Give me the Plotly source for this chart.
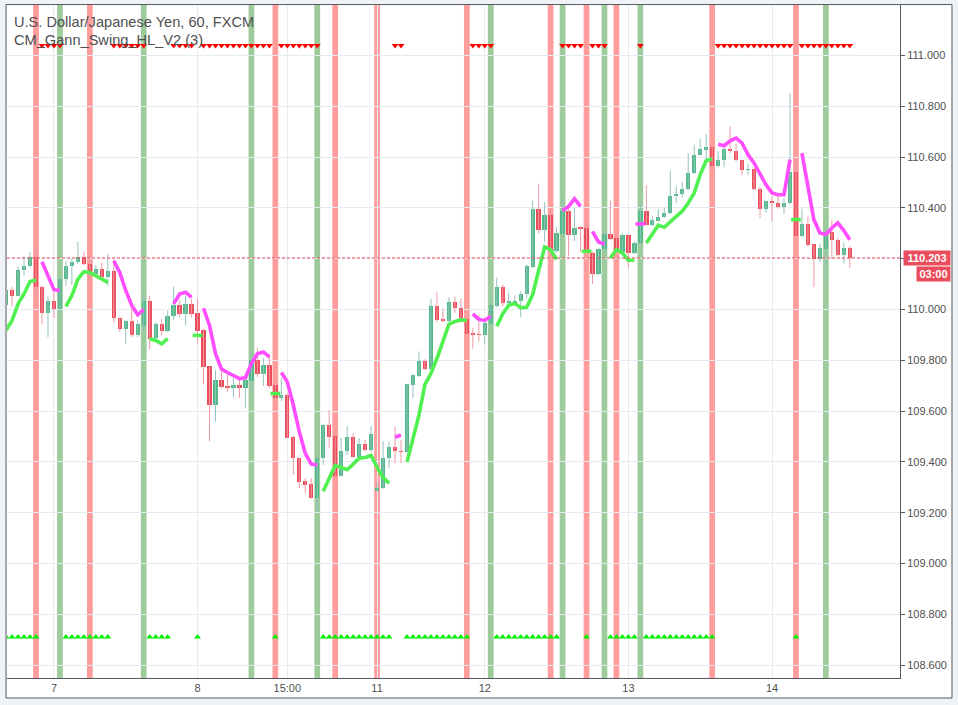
import plotly.graph_objects as go

# ---------------- data ----------------
tick_idx = [8, 32, 47, 62, 80, 104, 128]
tick_text = ["7", "8", "15:00", "11", "12", "13", "14"]

opens = [110.016, 110.075, 110.055, 110.154, 110.170, 110.208, 110.090, 109.986, 110.035, 110.003,
         110.120, 110.170, 110.186, 110.207, 110.179, 110.139, 110.159, 110.129, 110.153, 109.967,
         109.922, 109.953, 109.898, 109.937, 110.035, 109.888, 109.941, 109.914, 109.974, 110.016,
         109.984, 110.020, 109.987, 109.918, 109.776, 109.624, 109.722, 109.698, 109.691, 109.702,
         109.691, 109.719, 109.800, 109.748, 109.780, 109.702, 109.652, 109.663, 109.499, 109.414,
         109.323, 109.312, 109.257, 109.414, 109.545, 109.502, 109.346, 109.441, 109.499, 109.421,
         109.471, 109.447, 109.284, 109.297, 109.414, 109.460, 109.443, 109.440, 109.702, 109.739,
         109.796, 109.765, 110.012, 109.961, 109.953, 110.031, 110.005, 109.963, 109.907, 109.905,
         109.899, 109.941, 110.013, 110.088, 110.024, 110.026, 110.033, 110.062, 110.166, 110.397,
         110.315, 110.374, 110.229, 110.299, 110.389, 110.295, 110.324, 110.321, 110.223, 110.138,
         110.240, 110.298, 110.282, 110.225, 110.295, 110.223, 110.260, 110.389, 110.334, 110.350,
         110.366, 110.379, 110.446, 110.456, 110.474, 110.537, 110.609, 110.630, 110.641, 110.564,
         110.590, 110.633, 110.623, 110.587, 110.548, 110.553, 110.476, 110.397, 110.426, 110.421,
         110.402, 110.418, 110.540, 110.288, 110.338, 110.256, 110.199, 110.240, 110.304, 110.275,
         110.214, 110.244]
highs = [110.085, 110.090, 110.170, 110.209, 110.227, 110.231, 110.095, 110.051, 110.071, 110.133,
         110.192, 110.199, 110.267, 110.225, 110.199, 110.175, 110.186, 110.218, 110.199, 109.970,
         109.957, 110.022, 109.957, 110.071, 110.055, 109.950, 109.963, 109.996, 110.090, 110.035,
         110.055, 110.042, 110.044, 109.924, 109.776, 109.761, 109.754, 109.748, 109.728, 109.722,
         109.741, 109.833, 109.848, 109.809, 109.820, 109.718, 109.728, 109.669, 109.503, 109.414,
         109.336, 109.336, 109.427, 109.548, 109.604, 109.506, 109.495, 109.541, 109.512, 109.493,
         109.486, 109.541, 109.320, 109.482, 109.480, 109.539, 109.486, 109.708, 109.745, 109.835,
         109.804, 110.042, 110.068, 110.003, 110.048, 110.051, 110.044, 109.966, 109.928, 109.980,
         109.961, 110.059, 110.125, 110.098, 110.066, 110.056, 110.072, 110.177, 110.429, 110.495,
         110.423, 110.394, 110.325, 110.436, 110.400, 110.400, 110.328, 110.328, 110.229, 110.243,
         110.308, 110.429, 110.288, 110.301, 110.297, 110.269, 110.439, 110.488, 110.367, 110.397,
         110.400, 110.547, 110.485, 110.502, 110.616, 110.649, 110.672, 110.691, 110.649, 110.623,
         110.649, 110.721, 110.653, 110.591, 110.575, 110.557, 110.482, 110.429, 110.446, 110.459,
         110.440, 110.852, 110.594, 110.397, 110.367, 110.259, 110.259, 110.321, 110.354, 110.282,
         110.263, 110.249]
lows = [110.005, 110.012, 110.052, 110.133, 110.166, 110.061, 109.941, 109.891, 109.966, 109.987,
        110.092, 110.097, 110.179, 110.173, 110.099, 110.133, 110.120, 110.094, 109.950, 109.911,
        109.865, 109.891, 109.891, 109.911, 109.843, 109.873, 109.898, 109.911, 109.957, 109.970,
        109.937, 109.970, 109.865, 109.705, 109.480, 109.558, 109.689, 109.676, 109.656, 109.652,
        109.610, 109.676, 109.735, 109.699, 109.689, 109.643, 109.639, 109.493, 109.349, 109.297,
        109.277, 109.255, 109.205, 109.388, 109.456, 109.342, 109.342, 109.427, 109.417, 109.417,
        109.440, 109.440, 109.284, 109.294, 109.375, 109.395, 109.395, 109.437, 109.652, 109.735,
        109.761, 109.765, 109.950, 109.950, 109.950, 109.987, 109.957, 109.901, 109.846, 109.875,
        109.862, 109.938, 110.009, 110.013, 110.020, 110.020, 109.970, 110.046, 110.163, 110.301,
        110.266, 110.135, 110.223, 110.295, 110.210, 110.269, 110.229, 110.223, 110.101, 110.135,
        110.236, 110.272, 110.223, 110.223, 110.164, 110.217, 110.256, 110.332, 110.328, 110.347,
        110.361, 110.376, 110.419, 110.440, 110.470, 110.535, 110.606, 110.583, 110.547, 110.560,
        110.560, 110.615, 110.583, 110.528, 110.528, 110.468, 110.358, 110.380, 110.345, 110.397,
        110.377, 110.415, 110.284, 110.284, 110.249, 110.088, 110.187, 110.105, 110.200, 110.210,
        110.181, 110.164]
closes = [110.075, 110.055, 110.157, 110.173, 110.208, 110.088, 109.986, 110.035, 110.001, 110.120,
          110.173, 110.188, 110.207, 110.179, 110.139, 110.159, 110.129, 110.153, 109.966, 109.922,
          109.953, 109.898, 109.941, 110.035, 109.885, 109.941, 109.914, 109.976, 110.016, 109.984,
          110.020, 109.984, 109.914, 109.774, 109.624, 109.722, 109.695, 109.691, 109.702, 109.691,
          109.722, 109.800, 109.748, 109.780, 109.699, 109.652, 109.663, 109.495, 109.414, 109.320,
          109.310, 109.257, 109.414, 109.545, 109.499, 109.346, 109.443, 109.499, 109.421, 109.471,
          109.447, 109.510, 109.297, 109.414, 109.460, 109.443, 109.440, 109.705, 109.741, 109.796,
          109.765, 110.012, 109.957, 109.953, 110.031, 110.005, 109.961, 109.905, 109.901, 109.899,
          109.945, 110.016, 110.088, 110.024, 110.033, 110.035, 110.063, 110.170, 110.397, 110.315,
          110.374, 110.229, 110.301, 110.389, 110.295, 110.321, 110.318, 110.229, 110.138, 110.240,
          110.298, 110.279, 110.225, 110.295, 110.223, 110.262, 110.389, 110.334, 110.354, 110.366,
          110.381, 110.448, 110.456, 110.474, 110.537, 110.609, 110.633, 110.641, 110.564, 110.590,
          110.633, 110.623, 110.587, 110.548, 110.553, 110.476, 110.397, 110.426, 110.418, 110.402,
          110.421, 110.540, 110.288, 110.338, 110.253, 110.199, 110.244, 110.304, 110.273, 110.214,
          110.244, 110.203]

N = None
# swing line following highs (shown in down swings)
hi_line = [N, N, N, N, N, N, 110.188, 110.133, 110.078, 110.075,
           N, N, N, N, N, N, N, N, 110.192, 110.146,
           110.075, 110.016, 109.979, 110.000, N, N, N, N, 110.022, 110.061,
           110.068, 110.048, N, 110.005, 109.937, 109.826, 109.765, 109.752, 109.739, 109.728,
           109.731, 109.787, 109.826, 109.833, 109.813, N, 109.752, 109.715, 109.624, 109.519,
           109.434, 109.391, 109.388, N, N, N, N, N, N, N,
           N, N, N, N, N, 109.497, 109.506, N, N, N,
           N, N, N, N, N, N, N, N, 109.983, 109.961,
           109.957, 109.974, N, N, N, N, N, N, N, N,
           N, N, N, 110.389, 110.406, 110.436, 110.406, N, 110.308, 110.266,
           110.258, N, N, N, N, N, 110.337, N, N, N,
           N, N, N, N, N, N, N, N, N, 110.651,
           110.645, 110.664, 110.675, 110.655, 110.609, 110.577, 110.537, 110.491, 110.459, 110.452,
           110.452, 110.590, N, 110.616, 110.491, 110.354, 110.301, 110.295, 110.321, 110.341,
           110.311, 110.275]
# swing line following lows (shown in up swings)
lo_line = [109.918, 109.957, 110.022, 110.061, 110.110, 110.116, N, N, N, N,
           110.012, 110.055, 110.120, 110.149, 110.146, 110.133, 110.116, 110.107, N, N,
           N, N, N, N, 109.885, 109.878, 109.865, 109.885, N, N,
           N, N, 109.898, N, N, N, N, N, N, N,
           N, N, N, N, N, 109.669, N, N, N, N,
           N, N, N, 109.284, 109.336, 109.386, 109.378, 109.369, 109.391, 109.414,
           109.417, 109.425, 109.378, 109.339, 109.316, N, N, 109.399, 109.493, 109.584,
           109.705, 109.748, 109.807, 109.872, 109.941, 109.953, 109.959, 109.957, N, N,
           N, N, 109.934, 109.983, 110.017, 110.024, 110.007, 110.009, 110.059, 110.157,
           110.246, 110.236, 110.197, N, N, N, N, 110.229, N, N,
           N, 110.203, 110.236, 110.223, 110.194, 110.194, N, 110.262, 110.298, 110.332,
           110.324, 110.347, 110.367, 110.387, 110.419, 110.459, 110.531, 110.586, 110.594, N,
           N, N, N, N, N, N, N, N, N, N,
           N, N, 110.354, N, N, N, N, N, N, N,
           N, N]

red_bands = [5, 14, 45, 55, 62, 77, 91, 97, 102, 118, 132]
green_bands = [9, 23, 41, 52, 81, 93, 100, 106, 137]

up_marks = [0, 1, 2, 3, 4, 5, 10, 11, 12, 13, 14, 15, 16, 17, 24, 25, 26, 27, 32, 45,
            53, 54, 55, 56, 57, 58, 59, 60, 61, 62, 63, 64, 67, 68, 69, 70, 71, 72, 73, 74,
            75, 76, 77, 82, 83, 84, 85, 86, 87, 88, 89, 90, 91, 92, 97, 101, 102, 103, 104,
            105, 107, 108, 109, 110, 111, 112, 113, 114, 115, 116, 117, 118, 132]
down_marks = [6, 7, 8, 9, 18, 19, 20, 21, 22, 23, 28, 29, 30, 31, 33, 34, 35, 36, 37, 38,
              39, 40, 41, 42, 43, 44, 46, 47, 48, 49, 50, 51, 52, 65, 66, 78, 79, 80, 81,
              93, 94, 95, 96, 98, 99, 100, 106, 119, 120, 121, 122, 123, 124, 125, 126, 127,
              128, 129, 130, 131, 133, 134, 135, 136, 137, 138, 139, 140, 141]

title_1 = "U.S. Dollar/Japanese Yen, 60, FXCM"
title_2 = "CM_Gann_Swing_HL_V2 (3)"
last_price = closes[-1]
countdown = "03:00"

# ---------------- styling ----------------
UP = "#53b987"
DN = "#eb4d5c"
UP_WICK = "#93c2c0"
DN_WICK = "#f09aa2"
TXT = "#4f4f4f"
GRID = "#e5ebf1"
AX = "#555a60"
FONT = "Liberation Sans"

idx = list(range(len(opens)))
fig = go.Figure()

# wicks
for want_up, col in ((True, UP_WICK), (False, DN_WICK)):
    wx, wy = [], []
    for i in idx:
        if (closes[i] >= opens[i]) == want_up:
            wx += [i, i, None]
            wy += [lows[i], highs[i], None]
    fig.add_trace(go.Scatter(x=wx, y=wy, mode="lines", line=dict(color=col, width=1),
                             hoverinfo="skip"))

# bodies
for want_up, col in ((True, UP), (False, DN)):
    bx, bb, bh = [], [], []
    for i in idx:
        if (closes[i] >= opens[i]) == want_up:
            bx.append(i)
            bb.append(min(opens[i], closes[i]))
            bh.append(max(abs(closes[i] - opens[i]), 0.004))
    fig.add_trace(go.Bar(x=bx, y=bh, base=bb, width=0.72, marker=dict(color=col, line=dict(width=0)),
                         hoverinfo="skip"))

# swing lines
MAG = "#ff4dff"
LIM = "#4ff04f"
for vals, col in ((hi_line, MAG), (lo_line, LIM)):
    fig.add_trace(go.Scatter(x=idx, y=vals, mode="lines", line=dict(color=col, width=3.6),
                             connectgaps=False, hoverinfo="skip"))
    # isolated points shown as short dashes
    sx, sy = [], []
    for i in idx:
        if vals[i] is None:
            continue
        prev_none = i == 0 or vals[i - 1] is None
        next_none = i == len(vals) - 1 or vals[i + 1] is None
        if prev_none and next_none:
            sx.append(i)
            sy.append(vals[i])
    fig.add_trace(go.Scatter(x=sx, y=sy, mode="markers",
                             marker=dict(symbol="line-ew", size=7, line=dict(color=col, width=3.6)),
                             hoverinfo="skip"))

# swing markers
fig.add_trace(go.Scatter(x=down_marks, y=[111.04] * len(down_marks), mode="markers",
                         marker=dict(symbol="triangle-down", size=6, color="#ff0000"),
                         hoverinfo="skip"))
fig.add_trace(go.Scatter(x=up_marks, y=[108.71] * len(up_marks), mode="markers",
                         marker=dict(symbol="triangle-up", size=6, color="#00ee00"),
                         hoverinfo="skip"))

shapes = []
# outer panel
shapes.append(dict(type="rect", xref="paper", yref="paper", x0=-0.0011, x1=1.0582,
                   y0=-0.0297, y1=1.0007, line=dict(color=AX, width=1), fillcolor="white",
                   layer="below"))
for b in red_bands:
    shapes.append(dict(type="rect", xref="x", yref="paper", x0=b - 0.48, x1=b + 0.48, y0=0, y1=1,
                       fillcolor="#ff9c9c", line=dict(width=0), layer="between"))
for b in green_bands:
    shapes.append(dict(type="rect", xref="x", yref="paper", x0=b - 0.48, x1=b + 0.48, y0=0, y1=1,
                       fillcolor="#9dcb9b", line=dict(width=0), layer="between"))
# last price line
shapes.append(dict(type="line", xref="paper", yref="y", x0=0, x1=1, y0=last_price, y1=last_price,
                   line=dict(color=DN, width=1, dash="3px,2px"), layer="above"))

annotations = [
    dict(text=title_1, xref="paper", yref="paper", x=0.006, y=(678 - 22) / 673,
         xanchor="left", yanchor="middle", showarrow=False,
         font=dict(family=FONT, size=14.6, color=TXT)),
    dict(text=title_2, xref="paper", yref="paper", x=0.006, y=(678 - 40) / 673,
         xanchor="left", yanchor="middle", showarrow=False,
         font=dict(family=FONT, size=14.6, color=TXT)),
    dict(text="<b>%.3f</b>" % last_price, xref="paper", yref="y", x=(903 - 7) / 893, y=last_price,
         xanchor="left", yanchor="middle", showarrow=False, bgcolor=DN, width=44, height=12,
         borderpad=1, font=dict(family=FONT, size=11, color="white")),
    dict(text="<b>%s</b>" % countdown, xref="paper", yref="y", x=(951 - 7) / 893, y=last_price,
         yshift=-16, xanchor="right", yanchor="middle", showarrow=False, bgcolor=DN, width=31,
         height=12, borderpad=1, font=dict(family=FONT, size=11, color="white")),
]

fig.update_layout(
    width=958, height=705,
    margin=dict(l=7, r=58, t=5, b=27),
    paper_bgcolor="#eff2f6", plot_bgcolor="white",
    showlegend=False, barmode="overlay", bargap=0,
    shapes=shapes, annotations=annotations,
    xaxis=dict(range=[0.154, 149.39], tickvals=tick_idx, ticktext=tick_text, showgrid=True,
               gridcolor=GRID, zeroline=False, showline=True, linecolor=AX, ticks="",
               tickfont=dict(family=FONT, size=11, color=TXT), fixedrange=True),
    yaxis=dict(side="right", range=[108.549, 111.199], dtick=0.2, tick0=108.6, tickformat=".3f",
               showgrid=True, gridcolor=GRID, zeroline=False, showline=True, linecolor=AX,
               ticks="outside", ticklen=4, tickcolor=AX,
               tickfont=dict(family=FONT, size=11, color=TXT), fixedrange=True),
)

fig.write_html("out.html", config={"displayModeBar": False, "staticPlot": True},
               post_script="document.body.style.margin='0';")
